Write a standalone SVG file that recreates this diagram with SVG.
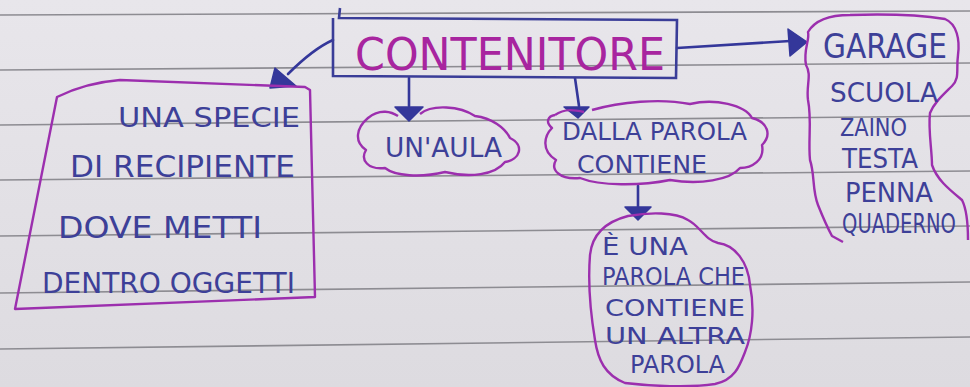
<svg xmlns="http://www.w3.org/2000/svg" width="970" height="387" viewBox="0 0 970 387">
<defs>
<linearGradient id="paper" x1="0" y1="0" x2="0" y2="1">
<stop offset="0" stop-color="#e8e6eb"/>
<stop offset="1" stop-color="#dddbe0"/>
</linearGradient>
<style>
.rule{stroke:#8d8c92;stroke-width:1.6;fill:none}
.ink{fill:#3d4098;font-family:"DejaVu Sans","Liberation Sans",sans-serif;font-weight:normal}
.pk{fill:none;stroke:#9c2fae;stroke-width:2.4;stroke-linejoin:round}
.bl{fill:none;stroke:#34379a;stroke-width:2.6;stroke-linecap:round}
.head{fill:#34379a;stroke:#34379a;stroke-width:1.5;stroke-linejoin:round}
</style>
</defs>
<rect width="970" height="387" fill="url(#paper)"/>
<g id="paper-lines">
<line class="rule" x1="0" y1="15" x2="970" y2="11"/>
<line class="rule" x1="0" y1="70" x2="970" y2="63"/>
<line class="rule" x1="0" y1="125" x2="970" y2="116"/>
<line class="rule" x1="0" y1="180" x2="970" y2="171"/>
<line class="rule" x1="0" y1="236" x2="970" y2="226"/>
<line class="rule" x1="0" y1="293" x2="970" y2="282"/>
<line class="rule" x1="0" y1="349" x2="970" y2="337"/>
</g>
<g id="connectors">
<path class="bl" d="M333,40 C315,48 300,62 288,74"/>
<path class="head" d="M275,68 L296,86 L270,88 Z"/>
<path class="bl" d="M409,78 L409,106"/>
<path class="head" d="M395,107 L423,107 L409,121 Z"/>
<path class="bl" d="M575,78 L579,106"/>
<path class="head" d="M564,107 L589,107 L578,118 Z"/>
<path class="bl" d="M638,186 L638,208"/>
<path class="head" d="M625,207 L651,207 L638,220 Z"/>
<path class="bl" d="M677,48 L790,41"/>
<path class="head" d="M788,29 L807,42 L790,56 Z"/>
</g>
<g id="node-contenitore">
<path d="M340,8 L339,18 L677,20 L676,78 L333,76 L333,18" fill="none" stroke="#3a3d98" stroke-width="2.6"/>
<text x="355" y="70" font-size="44" textLength="310" lengthAdjust="spacingAndGlyphs" fill="#a8259f" font-family="DejaVu Sans, Liberation Sans, sans-serif">CONTENITORE</text>
</g>
<g id="node-recipiente">
<path class="pk" d="M57,97 C75,88 95,82 120,80 L305,87 L310,90 L315,297 L15,309 Z"/>
<text class="ink" x="118" y="127" font-size="27" textLength="182" lengthAdjust="spacingAndGlyphs">UNA SPECIE</text>
<text class="ink" x="70" y="177" font-size="30" textLength="225" lengthAdjust="spacingAndGlyphs">DI RECIPIENTE</text>
<text class="ink" x="58" y="238" font-size="30" textLength="204" lengthAdjust="spacingAndGlyphs">DOVE METTI</text>
<text class="ink" x="42" y="293" font-size="29" textLength="253" lengthAdjust="spacingAndGlyphs">DENTRO OGGETTI</text>
</g>
<g id="node-aula">
<path class="pk" d="M368,118 C380,108 392,112 398,116 M420,114 C432,104 460,106 475,116 C492,118 505,128 510,138 C525,145 520,160 505,162 C495,175 470,178 445,172 C420,178 395,176 385,168 C368,170 360,160 366,150 C354,142 356,128 368,118"/>
<text class="ink" x="385" y="157" font-size="27" textLength="117" lengthAdjust="spacingAndGlyphs">UN'AULA</text>
</g>
<g id="node-dalla">
<path class="pk" d="M555,115 C565,108 575,110 584,112 M592,110 C620,102 660,98 690,104 C715,98 745,105 752,118 C768,122 772,135 762,145 C765,160 752,168 740,168 C730,180 700,185 670,180 C640,186 600,186 580,178 C560,180 550,170 556,160 C540,150 545,135 552,128 C545,122 548,116 555,115"/>
<text class="ink" x="562" y="140" font-size="25" textLength="185" lengthAdjust="spacingAndGlyphs">DALLA PAROLA</text>
<text class="ink" x="577" y="173" font-size="25" textLength="130" lengthAdjust="spacingAndGlyphs">CONTIENE</text>
</g>
<g id="node-parola">
<path class="pk" d="M628,216 C650,212 675,212 688,220 C700,226 705,240 718,243 C735,245 748,262 750,285 C755,310 752,335 745,352 C740,365 735,380 715,384 C690,388 650,386 625,383 C605,375 598,360 595,340 C590,310 588,280 590,255 C592,235 605,222 628,216 Z"/>
<text class="ink" x="602" y="255" font-size="24" textLength="86" lengthAdjust="spacingAndGlyphs">È UNA</text>
<text class="ink" x="602" y="285" font-size="24" textLength="143" lengthAdjust="spacingAndGlyphs">PAROLA CHE</text>
<text class="ink" x="605" y="316" font-size="23" textLength="140" lengthAdjust="spacingAndGlyphs">CONTIENE</text>
<text class="ink" x="605" y="344" font-size="23" textLength="140" lengthAdjust="spacingAndGlyphs">UN ALTRA</text>
<text class="ink" x="630" y="373" font-size="24" textLength="95" lengthAdjust="spacingAndGlyphs">PAROLA</text>
</g>
<g id="node-garage">
<path class="pk" d="M843,242 L832,236 C826,225 822,215 818,205 C812,190 815,175 810,160 C808,140 812,120 808,100 C806,85 812,75 806,65 C803,50 810,40 808,32 C815,20 830,15 850,15 C880,14 920,15 945,19 C957,24 960,40 958,55 C956,70 960,78 952,86 C942,96 934,103 930,113 C928,130 932,150 932,165 C937,180 950,190 962,200 C967,210 968,225 968,240"/>
<text class="ink" x="823" y="58" font-size="34" textLength="124" lengthAdjust="spacingAndGlyphs">GARAGE</text>
<text class="ink" x="830" y="102" font-size="27" textLength="108" lengthAdjust="spacingAndGlyphs">SCUOLA</text>
<text class="ink" x="840" y="136" font-size="25" textLength="67" lengthAdjust="spacingAndGlyphs">ZAINO</text>
<text class="ink" x="842" y="168" font-size="26" textLength="76" lengthAdjust="spacingAndGlyphs">TESTA</text>
<text class="ink" x="845" y="202" font-size="26" textLength="88" lengthAdjust="spacingAndGlyphs">PENNA</text>
<text class="ink" x="842" y="233" font-size="26" textLength="114" lengthAdjust="spacingAndGlyphs">QUADERNO</text>
</g>
</svg>
